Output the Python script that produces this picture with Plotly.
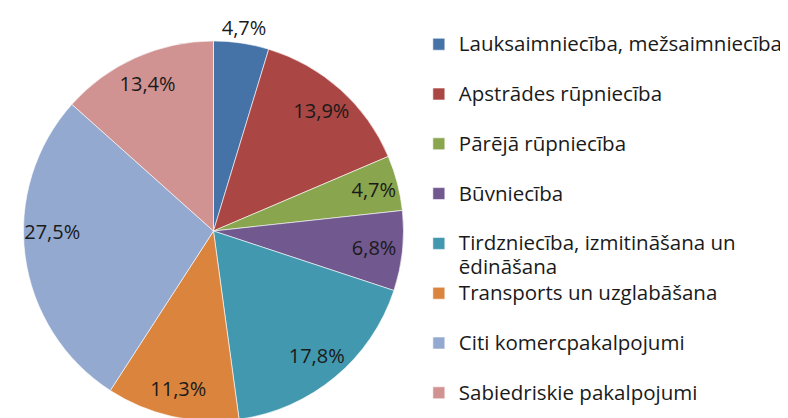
import plotly.graph_objects as go

categories = [
    "Lauksaimniecība, mežsaimniecība",
    "Apstrādes rūpniecība",
    "Pārējā rūpniecība",
    "Būvniecība",
    "Tirdzniecība, izmitināšana un<br>ēdināšana",
    "Transports un uzglabāšana",
    "Citi komercpakalpojumi",
    "Sabiedriskie pakalpojumi",
]
values = [4.7, 13.9, 4.7, 6.8, 17.8, 11.3, 27.5, 13.4]
value_labels = ["4,7%", "13,9%", "4,7%", "6,8%", "17,8%", "11,3%", "27,5%", "13,4%"]
colors = ["#4572A7", "#AA4643", "#89A54E", "#71588F",
          "#4198AF", "#DB843D", "#93A9CF", "#D19392"]

# legend labels: larger glyphs inside a span, padded with a blank second line
# so every entry has the same height (the last one needs no padding)
def legend_text(c, pad):
    lines = c.split("<br>")
    if len(lines) == 1 and pad:
        lines.append(" ")
    return "<br>".join('<span style="font-size:20.5px">%s</span>' % ln for ln in lines)

legend_labels = [legend_text(c, i < len(categories) - 1) for i, c in enumerate(categories)]
n = len(values)
domain = dict(x=[0, 396 / 788], y=[0, 1])
transparent = ["rgba(0,0,0,0)"] * n

fig = go.Figure()
# coloured slices
fig.add_trace(go.Pie(
    labels=legend_labels, values=values,
    textinfo="none", sort=False, direction="clockwise", rotation=0,
    marker=dict(colors=colors, line=dict(color="rgba(255,255,255,0.6)", width=1)),
    domain=domain, hoverinfo="skip",
))
# transparent ring that places the inside percentage labels like the original
fig.add_trace(go.Pie(
    labels=legend_labels, values=values,
    text=[""] + value_labels[1:], textinfo="text",
    textposition=["none"] + ["inside"] * (n - 1),
    insidetextorientation="horizontal", hole=0.7,
    sort=False, direction="clockwise", rotation=0, showlegend=False,
    marker=dict(colors=transparent, line=dict(width=0)),
    textfont=dict(family="Open Sans", size=20, color="#1a1a1a"),
    domain=domain, hoverinfo="skip",
))
# transparent copy carrying only the first (outside) label, turned slightly so it sits above the slice
fig.add_trace(go.Pie(
    labels=legend_labels, values=values,
    text=[value_labels[0]] + [""] * (n - 1), textinfo="text",
    textposition=["outside"] + ["none"] * (n - 1),
    sort=False, direction="clockwise", rotation=-8, showlegend=False,
    marker=dict(colors=transparent, line=dict(width=0)),
    textfont=dict(family="Open Sans", size=20, color="#1a1a1a"),
    domain=domain, hoverinfo="skip",
))

fig.update_layout(
    width=788, height=418,
    margin=dict(l=0, r=0, t=33, b=5),
    paper_bgcolor="white",
    plot_bgcolor="white",
    showlegend=True,
    uniformtext=dict(minsize=20, mode="show"),
    legend=dict(
        x=406 / 788, xref="paper", y=1.0 + 15 / 380, yref="paper", yanchor="top",
        xanchor="left",
        valign="top",
        maxheight=1.0,
        font=dict(family="Open Sans", size=18, color="#1a1a1a"),
        itemclick=False,
        traceorder="normal",
    ),
    font=dict(family="Open Sans"),
)

fig.write_html("out.html")
